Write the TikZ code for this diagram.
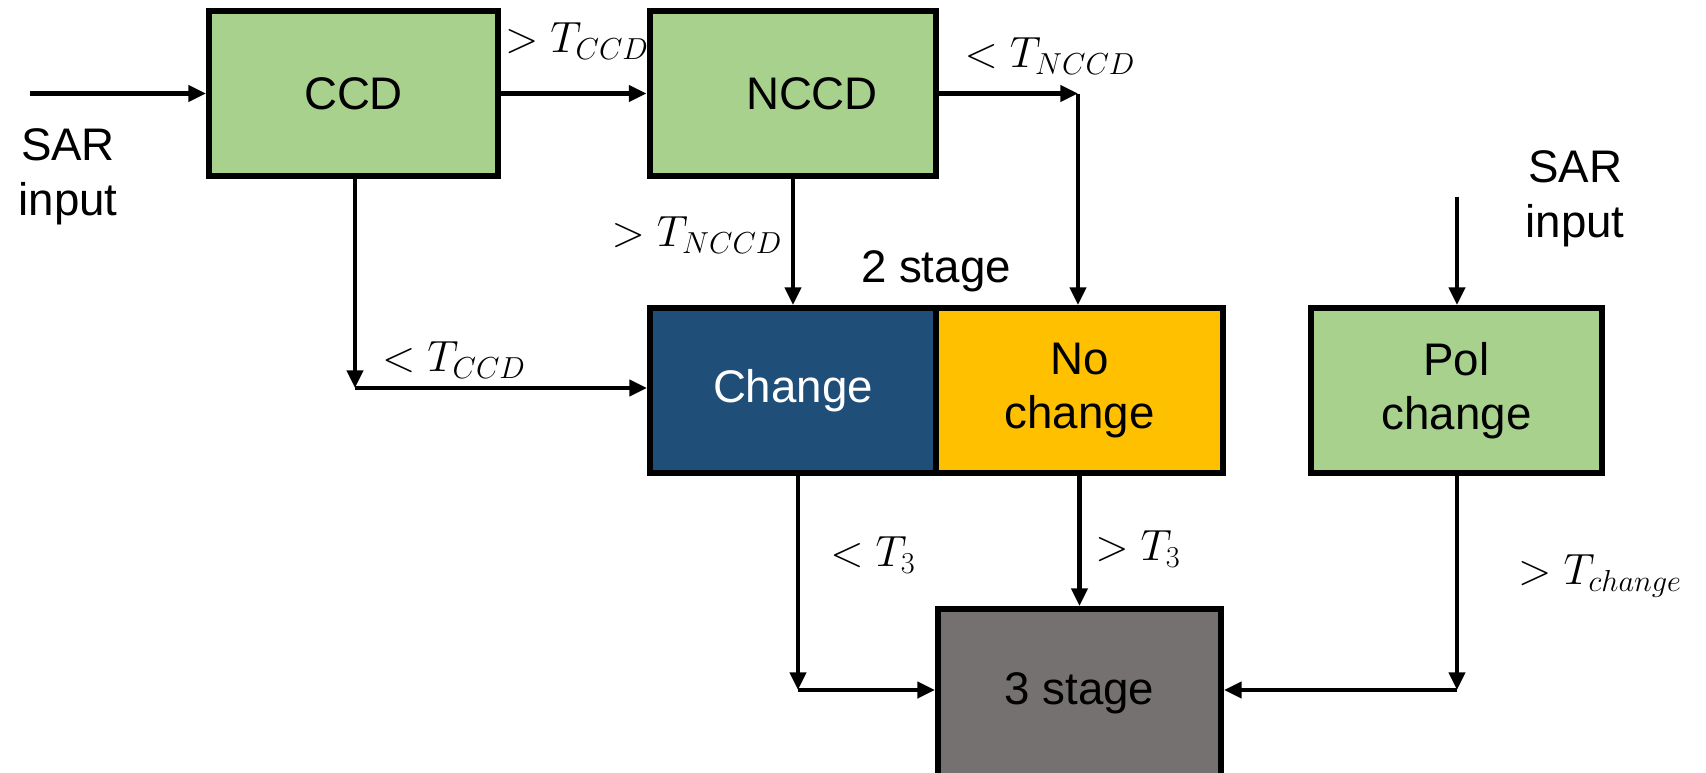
\documentclass[tikz,border=0pt]{standalone}
\usepackage{fontspec}
\setmainfont{Liberation Sans}
\usetikzlibrary{arrows.meta}
\definecolor{boxgreen}{HTML}{A9D18E}
\definecolor{boxblue}{HTML}{1F4E79}
\definecolor{boxyellow}{HTML}{FFC000}
\definecolor{boxgray}{HTML}{767171}
\begin{document}
\begin{tikzpicture}[x=0.02cm,y=-0.02cm,
  blk/.style={draw=black, line width=3.4pt, minimum width=5.74cm, minimum height=3.3cm,
    inner sep=0pt, align=center, font=\fontsize{26}{31}\selectfont},
  arr/.style={line width=2.6pt, -{Triangle[length=10pt,width=9pt]}},
  lbl/.style={font=\fontsize{26}{31}\selectfont, inner sep=0pt},
  txt/.style={font=\fontsize{26}{31}\selectfont, align=center, inner sep=0pt}]
\useasboundingbox (0,0) rectangle (1706,772);

% processing blocks
\node[blk, fill=boxgreen, minimum width=5.78cm] (ccd) at (353.5,93.5) {CCD};
\node[blk, fill=boxgreen] (nccd) at (793,93.5) {\hspace*{0.76cm}NCCD};
\node[blk, fill=boxblue, text=white, minimum width=5.72cm] (chg) at (793,390.5) {Change};
\node[blk, fill=boxyellow] (nochg) at (1079.5,390.5) {No\\change};
\node[blk, fill=boxgreen, minimum width=5.82cm] (pol) at (1456.5,390.5) {Pol\\change};
\node[blk, fill=boxgray, minimum width=5.66cm, minimum height=3.36cm] (st3) at (1079.5,693) {3 stage};

% inputs and stage caption
\node[txt, anchor=base] (sarL) at (68,215) {SAR\\input};
\node[txt, anchor=base] (sarR) at (1575,237) {SAR\\input};
\node[txt, anchor=base] (st2) at (936,282) {2 stage};

% threshold labels
\node[lbl] (tccd1) at (577,41) {$>T_{CCD}$};
\node[lbl] (tnccd1) at (1050,56) {$<T_{NCCD}$};
\node[lbl] (tnccd2) at (697,235) {$>T_{NCCD}$};
\node[lbl] (tccd2) at (454,360) {$<T_{CCD}$};
\node[lbl] (t3a) at (873,555) {$<T_3$};
\node[lbl] (t3b) at (1138,549) {$>T_3$};
\node[lbl] (tchg) at (1600,576) {$>T_{change}$};

% bend points
\coordinate (inL) at (30,93.5);
\coordinate (k1) at (1078,93.5);
\coordinate (k2) at (355,388);
\coordinate (k3) at (798,690);
\coordinate (inR) at (1457,197);
\coordinate (k4) at (1457,690);

% connectors
\draw[arr] (inL) -- (ccd.west);
\draw[arr] (ccd.east) -- (nccd.west);
\draw[arr] (nccd.east) -- (k1);
\draw[arr] (k1) -- (k1 |- nochg.north);
\draw[arr] (ccd.south -| k2) -- (k2);
\draw[arr] (k2) -- (k2 -| chg.west);
\draw[arr] (nccd.south) -- (chg.north);
\draw[arr] (chg.south -| k3) -- (k3);
\draw[arr] (k3) -- (k3 -| st3.west);
\draw[arr] (nochg.south) -- (st3.north);
\draw[arr] (inR) -- (inR |- pol.north);
\draw[arr] (pol.south -| k4) -- (k4);
\draw[arr] (k4) -- (k4 -| st3.east);
\end{tikzpicture}
\end{document}
